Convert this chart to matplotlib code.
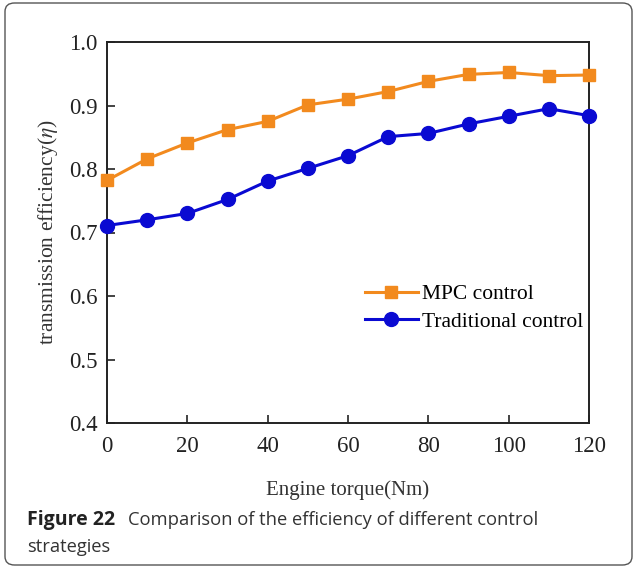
import matplotlib.pyplot as plt
from matplotlib.patches import FancyBboxPatch

torque = [0, 10, 20, 30, 40, 50, 60, 70, 80, 90, 100, 110, 120]
mpc_eff = [0.782, 0.816, 0.841, 0.862, 0.875, 0.901, 0.910, 0.922, 0.938, 0.949, 0.952, 0.947, 0.948]
trad_eff = [0.711, 0.720, 0.730, 0.752, 0.781, 0.801, 0.821, 0.851, 0.856, 0.871, 0.883, 0.895, 0.884]
x_ticks = [0, 20, 40, 60, 80, 100, 120]
y_ticks = [0.4, 0.5, 0.6, 0.7, 0.8, 0.9, 1.0]

plt.rcParams['font.family'] = ['Liberation Serif', 'DejaVu Serif']
plt.rcParams['mathtext.fontset'] = 'stix'

fig = plt.figure(figsize=(6.37, 5.68), dpi=100)
ax = fig.add_axes([107 / 637, 1 - 423 / 568, (589 - 107) / 637, (423 - 42) / 568])

ax.plot(torque, mpc_eff, color='#f28a1e', linewidth=2.2, marker='s', markersize=9,
        label='MPC control', clip_on=False, zorder=3)
ax.plot(torque, trad_eff, color='#0a0ad2', linewidth=2.2, marker='o', markersize=10,
        label='Traditional control', clip_on=False, zorder=3)

ax.set_xlim(0, 120)
ax.set_ylim(0.4, 1.0)
ax.set_xticks(x_ticks)
ax.set_yticks(y_ticks)
ax.set_yticklabels(['%.1f' % v for v in y_ticks])
ax.tick_params(direction='in', length=6, width=1.2, labelsize=16.5, colors='#222222')
ax.tick_params(axis='x', pad=9)
ax.tick_params(axis='y', pad=7)
for s in ax.spines.values():
    s.set_linewidth(1.4)
    s.set_color('#222222')

ax.set_xlabel('Engine torque(Nm)', fontsize=15, labelpad=17, color='#333333')
ax.set_ylabel(r'transmission efficiency($\eta$)', fontsize=15.5, labelpad=6, color='#333333')

ax.legend(loc='center right', bbox_to_anchor=(1.005, 0.302), frameon=False, fontsize=15.5,
          handlelength=2.5, handletextpad=0.15, labelspacing=0.35, borderaxespad=0)

# caption
cap_font = ['Open Sans', 'DejaVu Sans']
fig.text(27 / 637, 1 - 520 / 568, 'Figure 22', fontsize=14, va='center', weight='bold',
         family=cap_font, color='#222222')
fig.text(128 / 637, 1 - 520 / 568, 'Comparison of the efficiency of different control',
         fontsize=13.2, va='center', family=cap_font, color='#333333')
fig.text(27 / 637, 1 - 547 / 568, 'strategies', fontsize=13.2, va='center',
         family=cap_font, color='#333333')

# rounded frame around the figure
fig.patches.append(FancyBboxPatch((5 / 637, 3 / 568), 627 / 637, 562 / 568,
                                  boxstyle='round,pad=0,rounding_size=0.015',
                                  transform=fig.transFigure, fill=False,
                                  edgecolor='#555555', linewidth=1.0))

fig.savefig('out.png', dpi=100)
